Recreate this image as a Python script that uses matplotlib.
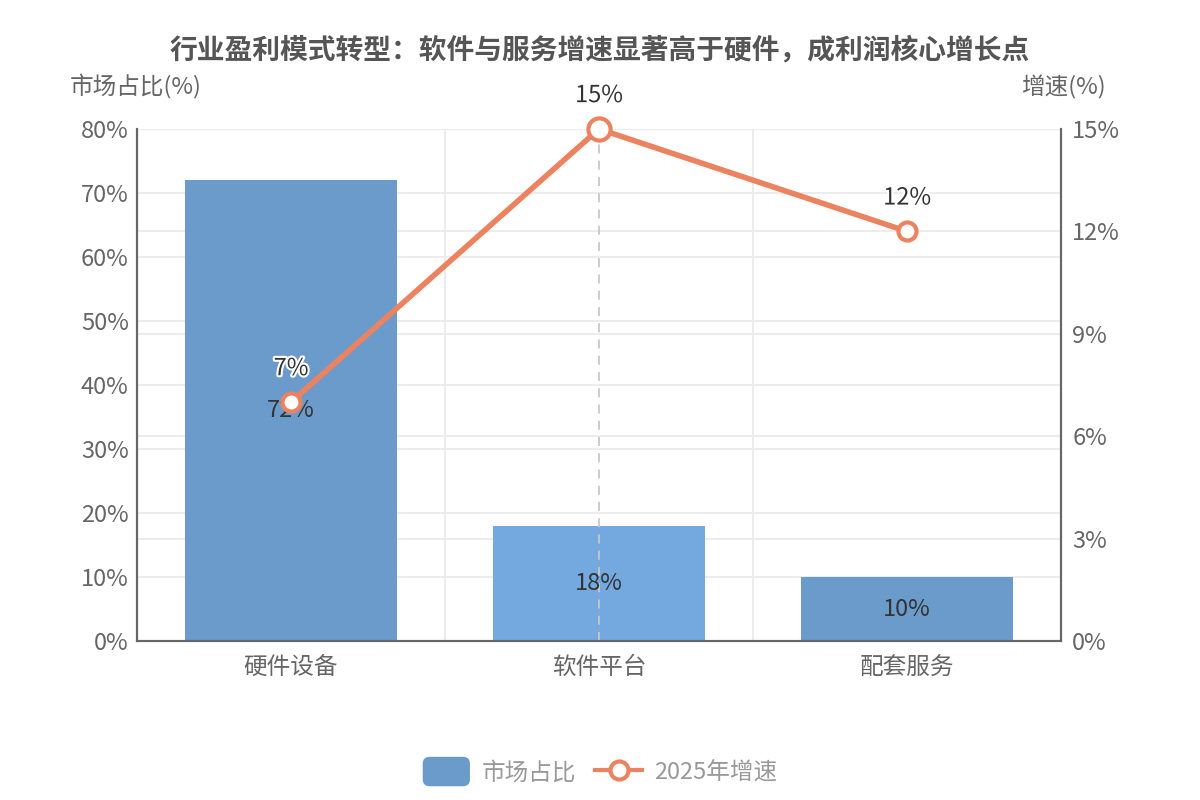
"""Market share vs growth chart: bars on the left axis, growth line on the right."""

import matplotlib
matplotlib.use("Agg")
import matplotlib.pyplot as plt
import matplotlib.patheffects as pe
from matplotlib.lines import Line2D
from matplotlib.patches import FancyBboxPatch
from matplotlib.legend_handler import HandlerPatch

plt.rcParams["font.family"] = ["Noto Sans CJK SC", "DejaVu Sans"]

categories = ["硬件设备", "软件平台", "配套服务"]
share = [72, 18, 10]
growth = [7, 15, 12]
title = "行业盈利模式转型：软件与服务增速显著高于硬件，成利润核心增长点"

BAR = "#6a9bcb"
BAR_HI = "#74a9df"
LINE = "#eb8360"
GRID = "#ececec"
AXIS = "#666666"
LEFT_MAX, RIGHT_MAX = 80, 15

fig = plt.figure(figsize=(12, 8), dpi=100)
ax = fig.add_axes([0.1142, 0.19875, 0.77, 0.64])
ax2 = ax.twinx()

x = range(len(categories))
colors = [BAR, BAR_HI, BAR]
bars = ax.bar(x, share, width=0.69, color=colors, zorder=2)
ax.set_xlim(-0.5, 2.5)
ax.set_ylim(0, LEFT_MAX)
ax2.set_ylim(0, RIGHT_MAX)

# grid lines for both axes, all drawn behind the bars
for v in range(10, LEFT_MAX + 10, 10):
    ax.axhline(v, color=GRID, lw=1.5, zorder=0)
for v in range(3, RIGHT_MAX + 3, 3):
    ax.axhline(v * LEFT_MAX / RIGHT_MAX, color=GRID, lw=1.5, zorder=0)
for v in (0.5, 1.5):
    ax.axvline(v, color=GRID, lw=1.5, zorder=0)
ax.axvline(1, color="#c8c8c8", lw=1.3, ls=(0, (5, 4)), zorder=3)

for b, v in zip(bars, share):
    ax.text(b.get_x() + b.get_width() / 2, v / 2, f"{v}%", ha="center", va="center",
            fontsize=17, color="#333333", zorder=4)

ax2.plot(x, growth, color=LINE, lw=4, zorder=5, clip_on=False)
sizes = [13, 16, 13]
for xi, g, s in zip(x, growth, sizes):
    ax2.plot(xi, g, marker="o", ms=s, mfc="white", mec=LINE, mew=3, zorder=6,
             clip_on=False)
    ax2.annotate(f"{g}%", (xi, g), xytext=(0, 24), textcoords="offset points",
                 ha="center", va="center", fontsize=17, color="#333333", zorder=7,
                 path_effects=[pe.withStroke(linewidth=3, foreground="white")])

ax.set_xticks(list(x))
ax.set_xticklabels(categories)
ax.set_yticks(range(0, LEFT_MAX + 10, 10))
ax.set_yticklabels([f"{v}%" for v in range(0, LEFT_MAX + 10, 10)])
ax2.set_yticks(range(0, RIGHT_MAX + 3, 3))
ax2.set_yticklabels([f"{v}%" for v in range(0, RIGHT_MAX + 3, 3)])
ax.tick_params(axis="y", length=0, labelsize=17, colors=AXIS, pad=6)
ax.tick_params(axis="x", length=0, labelsize=17, colors=AXIS, pad=11)
ax2.tick_params(axis="y", length=0, labelsize=17, colors=AXIS, pad=8)

for a in (ax, ax2):
    a.spines["top"].set_visible(False)
    for side in ("left", "right", "bottom"):
        a.spines[side].set_color(AXIS)
        a.spines[side].set_linewidth(1.5)
ax.set_zorder(ax2.get_zorder() - 1)
ax.patch.set_visible(True)
ax2.patch.set_visible(False)

fig.text(0.5, 0.937, title, ha="center", va="center", fontsize=20,
         fontweight="bold", color="#555555")
fig.text(0.058, 0.891, "市场占比(%)", ha="left", va="center", fontsize=17, color=AXIS)
fig.text(0.921, 0.891, "增速(%)", ha="right", va="center", fontsize=17, color=AXIS)


class RoundBox(HandlerPatch):
    def create_artists(self, legend, orig_handle, xdescent, ydescent, width, height,
                       fontsize, trans):
        p = FancyBboxPatch((-xdescent, -ydescent - 3), width, height + 6,
                           boxstyle="round,pad=0,rounding_size=5",
                           facecolor=BAR, edgecolor="none", transform=trans)
        return [p]


handles = [
    FancyBboxPatch((0, 0), 1, 1, facecolor=BAR, label="市场占比"),
    Line2D([0], [0], color=LINE, lw=3, marker="o", ms=13, mfc="white", mec=LINE,
           mew=3, label="2025年增速"),
]
leg = fig.legend(handles=handles, loc="center", bbox_to_anchor=(0.5, 0.034), ncol=2,
                 frameon=False, fontsize=17, handlelength=2.0, handleheight=1.0,
                 columnspacing=0.8, handletextpad=0.5,
                 handler_map={FancyBboxPatch: RoundBox()})
for t in leg.get_texts():
    t.set_color("#999999")

fig.savefig("out.png", dpi=100)
plt.close(fig)
